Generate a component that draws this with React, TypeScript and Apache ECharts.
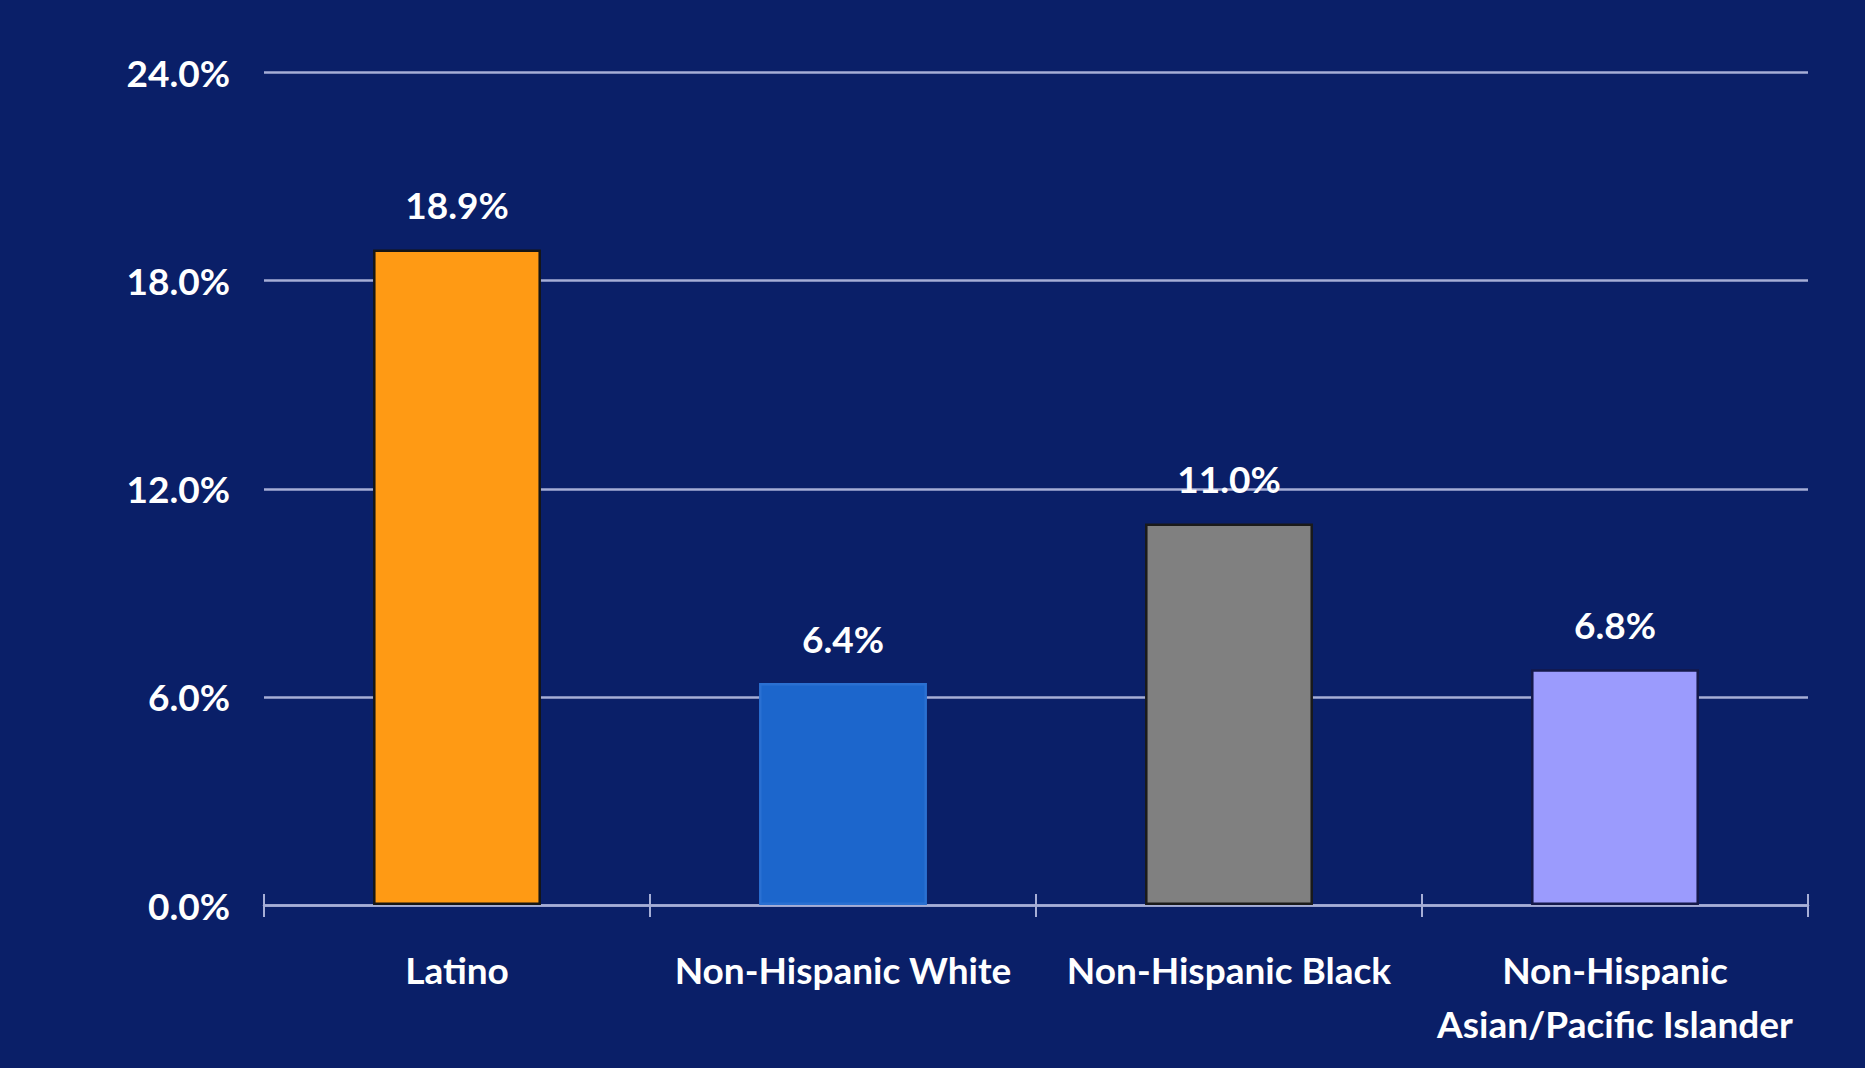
import React, { useEffect, useRef } from "react";
import * as echarts from "echarts";

const categories = [
  "Latino",
  "Non-Hispanic White",
  "Non-Hispanic Black",
  "Non-Hispanic\nAsian/Pacific Islander",
];
const values = [18.9, 6.4, 11.0, 6.8];
const barColors = ["#ff9a14", "#1c66cc", "#808080", "#9b9bfd"];
const barBorders = ["#151515", "#2a70d2", "#1a1a1a", "#14194a"];
const yTicks = { min: 0, max: 24, interval: 6 };

const FONT = "Lato";
const GRID_COLOR = "#a6aed6";

export default function App() {
  const ref = useRef<HTMLDivElement>(null);
  useEffect(() => {
    if (!ref.current) return;
    const chart = echarts.init(ref.current, undefined, { renderer: "svg" });
    chart.setOption({
      animation: false,
      backgroundColor: "#0a1f68",
      grid: { left: 264, right: 57, top: 72.6, bottom: 163, containLabel: false },
      xAxis: [
        {
          type: "category",
          data: categories,
          position: "bottom",
          axisLine: { show: true, lineStyle: { color: GRID_COLOR, width: 2.5 } },
          axisTick: { show: true, alignWithLabel: false, length: 12, lineStyle: { color: GRID_COLOR, width: 2 } },
          axisLabel: {
            color: "#ffffff",
            fontFamily: FONT,
            fontWeight: "bold",
            fontSize: 37,
            lineHeight: 54,
            margin: 37,
            interval: 0,
          },
        },
        {
          type: "category",
          data: categories,
          position: "bottom",
          axisLine: { show: false },
          axisTick: { show: true, inside: true, alignWithLabel: false, length: 11, lineStyle: { color: GRID_COLOR, width: 2 } },
          axisLabel: { show: false },
          splitLine: { show: false },
        },
      ],
      yAxis: {
        type: "value",
        min: yTicks.min,
        max: yTicks.max,
        interval: yTicks.interval,
        axisLine: { show: false },
        axisTick: { show: false },
        splitLine: { show: true, lineStyle: { color: GRID_COLOR, width: 2.5 } },
        axisLabel: {
          color: "#ffffff",
          fontFamily: FONT,
          fontWeight: "bold",
          fontSize: 37,
          margin: 34,
          formatter: (v: number) => v.toFixed(1) + "%",
        },
      },
      series: [
        {
          type: "bar",
          xAxisIndex: 0,
          barWidth: "43.5%",
          data: values.map((v, i) => ({
            value: v,
            itemStyle: { color: barColors[i], borderColor: barBorders[i], borderWidth: 2.5 },
          })),
          label: {
            show: true,
            position: "top",
            distance: 25,
            color: "#ffffff",
            fontFamily: FONT,
            fontWeight: "bold",
            fontSize: 37,
            lineHeight: 40,
            formatter: (p: any) => Number(p.value).toFixed(1) + "%",
          },
        },
      ],
    });
    return () => chart.dispose();
  }, []);
  return (
    <div
      ref={ref}
      style={{ position: "absolute", left: 0, top: 0, width: 1865, height: 1068 }}
    />
  );
}
